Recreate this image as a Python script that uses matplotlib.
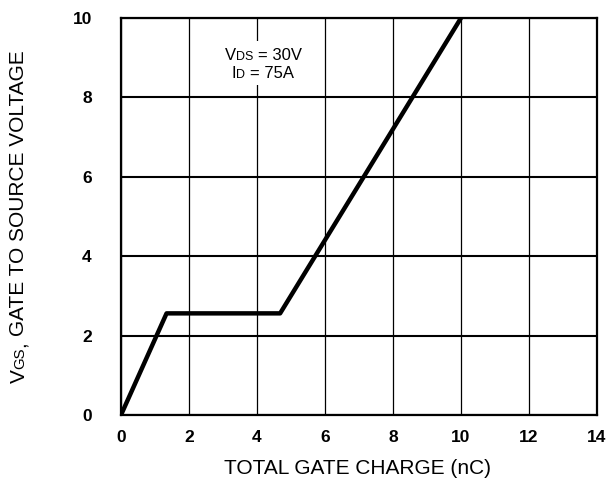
#!/usr/bin/env python3

import matplotlib
matplotlib.use('Agg')
import matplotlib.pyplot as plt
from matplotlib.transforms import IdentityTransform
from matplotlib.patches import Rectangle
from matplotlib import rcParams
rcParams['font.family'] = ['Liberation Sans', 'DejaVu Sans']

# gate charge curve
gate_charge = [0.0, 1.34, 4.68, 10.0]   # nC
vgs = [0.0, 2.56, 2.56, 10.0]           # V
x_ticks = [0, 2, 4, 6, 8, 10, 12, 14]
y_ticks = [0, 2, 4, 6, 8, 10]

W, H, DPI = 610, 499, 100
fig = plt.figure(figsize=(W/DPI, H/DPI), dpi=DPI)
ax = fig.add_axes([121/W, 1-415/H, 476/W, 397/H])

ax.plot(gate_charge, vgs, 'k-', lw=3.2, zorder=5, solid_capstyle='butt')
ax.set_xlim(0, 14)
ax.set_ylim(0, 10)
ax.set_xticks(x_ticks)
ax.set_yticks(y_ticks)
ax.xaxis.grid(True, color='black', lw=0.9)
ax.yaxis.grid(True, color='black', lw=1.5)
ax.set_axisbelow(True)
for s in ax.spines.values():
    s.set_linewidth(1.6)
ax.tick_params(axis='both', length=0, labelsize=12.5)
ax.tick_params(axis='x', pad=11)
ax.tick_params(axis='y', pad=21)
for lb in ax.get_xticklabels() + ax.get_yticklabels():
    lb.set_fontweight('bold')

renderer = fig.canvas.get_renderer()

def piece_text(pieces, x, y, rotation=0, center=True):
    """draw (text, size, gap_px) pieces one after the other on one baseline,
    in pixel coordinates; returns the texts"""
    texts = []
    for s, size, gap in pieces:
        t = fig.text(0, 0, s, fontsize=size, rotation=rotation,
                     rotation_mode='anchor', ha='left', va='baseline',
                     transform=IdentityTransform(), zorder=6)
        texts.append(t)
    adv = []
    for t in texts:
        bb = t.get_window_extent(renderer)
        adv.append(bb.height if rotation else bb.width)
    total = sum(adv) + sum(p[2] for p in pieces)
    pos = -total/2 if center else 0
    for t, a, p in zip(texts, adv, pieces):
        pos += p[2]
        if rotation:
            t.set_position((x, y + pos))
        else:
            t.set_position((x + pos, y))
        pos += a
    return texts

big, small = 12, 9
sp = 0.278*big*DPI/72
line1 = piece_text([('V', big, 0), ('DS', small, 0), ('= 30V', big, sp)],
                   263, H-59.5)
line2 = piece_text([('I', big, 0), ('D', small, 0), ('= 75A', big, sp)],
                   263, H-78)

# white patch behind the conditions text
bbs = [t.get_window_extent(renderer) for t in line1 + line2]
x0 = min(b.x0 for b in bbs) - 6
x1 = max(b.x1 for b in bbs) + 6
y0 = min(b.y0 for b in bbs) - 4
y1 = max(b.y1 for b in bbs) + 7
fig.patches.append(Rectangle((x0, y0), x1-x0, y1-y0, facecolor='white',
                             edgecolor='none', transform=IdentityTransform(),
                             zorder=4))

lab = 15
sp_l = 0.278*lab*DPI/72
piece_text([('V', lab, 0), ('GS', lab*0.72, 0), (',', lab, 0),
            ('GATE TO SOURCE VOLTAGE', lab, sp_l)],
           24.5, H-216.5, rotation=90)

fig.text(358/W, 1-468/H, 'TOTAL GATE CHARGE (nC)', fontsize=lab,
         ha='center', va='center')

plt.savefig('out.png', dpi=DPI)
